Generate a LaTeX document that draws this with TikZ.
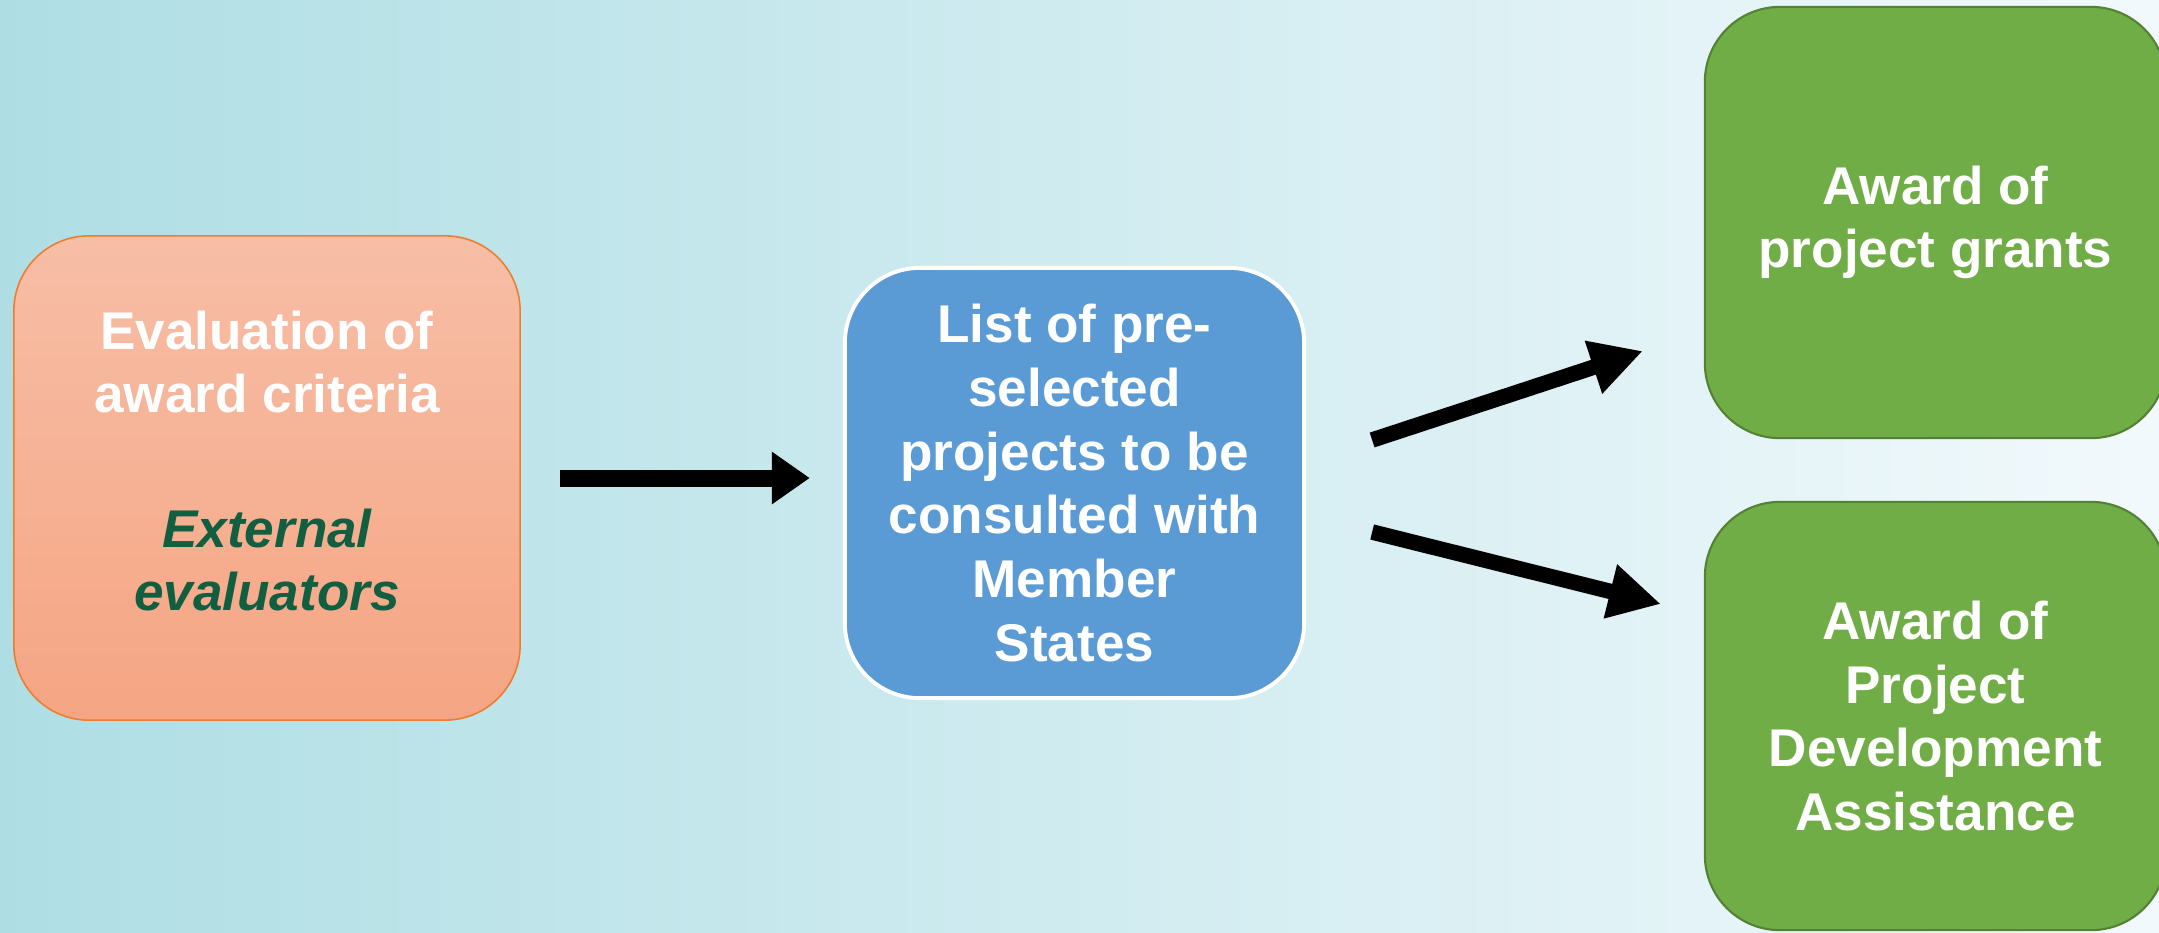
\documentclass[tikz,border=0pt]{standalone}
\usepackage{fontspec}
\setmainfont{Liberation Sans}
\usetikzlibrary{arrows.meta}
\definecolor{bgL}{RGB}{174,222,228}
\definecolor{bgM}{RGB}{212,238,242}
\definecolor{bgR}{RGB}{242,249,252}
\definecolor{orTop}{RGB}{247,190,166}
\definecolor{orBot}{RGB}{245,165,131}
\definecolor{orEdge}{RGB}{237,125,49}
\definecolor{blFill}{RGB}{91,155,213}
\definecolor{grFill}{RGB}{112,173,71}
\definecolor{grEdge}{RGB}{84,130,53}
\definecolor{evTxt}{RGB}{17,94,65}
\begin{document}
\begin{tikzpicture}[x=0.01cm,y=-0.01cm,line join=round,
	box/.style={rounded corners=0.75cm,inner sep=0pt,outer sep=0pt,align=center,text=white,font=\fontsize{15.1}{18.1}\selectfont\bfseries},
	orbox/.style={box,draw=orEdge,line width=0.45pt,top color=orTop,bottom color=orBot,minimum width=5.06cm,minimum height=4.84cm},
	blbox/.style={box,draw=white,line width=1.1pt,fill=blFill,minimum width=4.59cm,minimum height=4.30cm},
	grbox/.style={box,draw=grEdge,line width=0.6pt,fill=grFill,minimum width=4.61cm},
	bigarrow/.style={line width=0.155cm,-{Triangle[length=0.52cm,width=0.52cm]}}]
	%Evaluation - pre-selection - award.
	\useasboundingbox (0,0) rectangle (2159,932);
	\clip (0,0) rectangle (2159,932);
	\shade[left color=bgL,middle color=bgM,right color=bgR] (0,0) rectangle (2159,932);
	\node[orbox] (eval) at (267,478) {};
	\node[box] (evaltxt) at ([yshift=0.17cm]eval.center) {Evaluation of\\award criteria\\[0.705cm]{\color{evTxt}\itshape External}\\{\color{evTxt}\itshape evaluators}};
	\node[blbox] (list) at (1074.5,483) {List of pre-\\selected\\projects to be\\consulted with\\Member\\States};
	\node[grbox,minimum height=4.31cm] (grant) at (1935.5,222.5) {Award of\\project grants};
	\node[grbox,minimum height=4.28cm] (pda) at (1935.5,716) {Award of\\Project\\Development\\Assistance};
	\draw[line width=0.17cm,-{Triangle[length=0.38cm,width=0.5cm]},shorten <=0.40cm,shorten >=0.35cm] (eval.east)--(eval.east -| list.west);
	\draw[bigarrow] ([shift={(68,-43)}]list.east)--([shift={(-62,128.5)}]grant.west);
	\draw[bigarrow] ([shift={(68,49)}]list.east)--([shift={(-44,-112)}]pda.west);
\end{tikzpicture}
\end{document}
